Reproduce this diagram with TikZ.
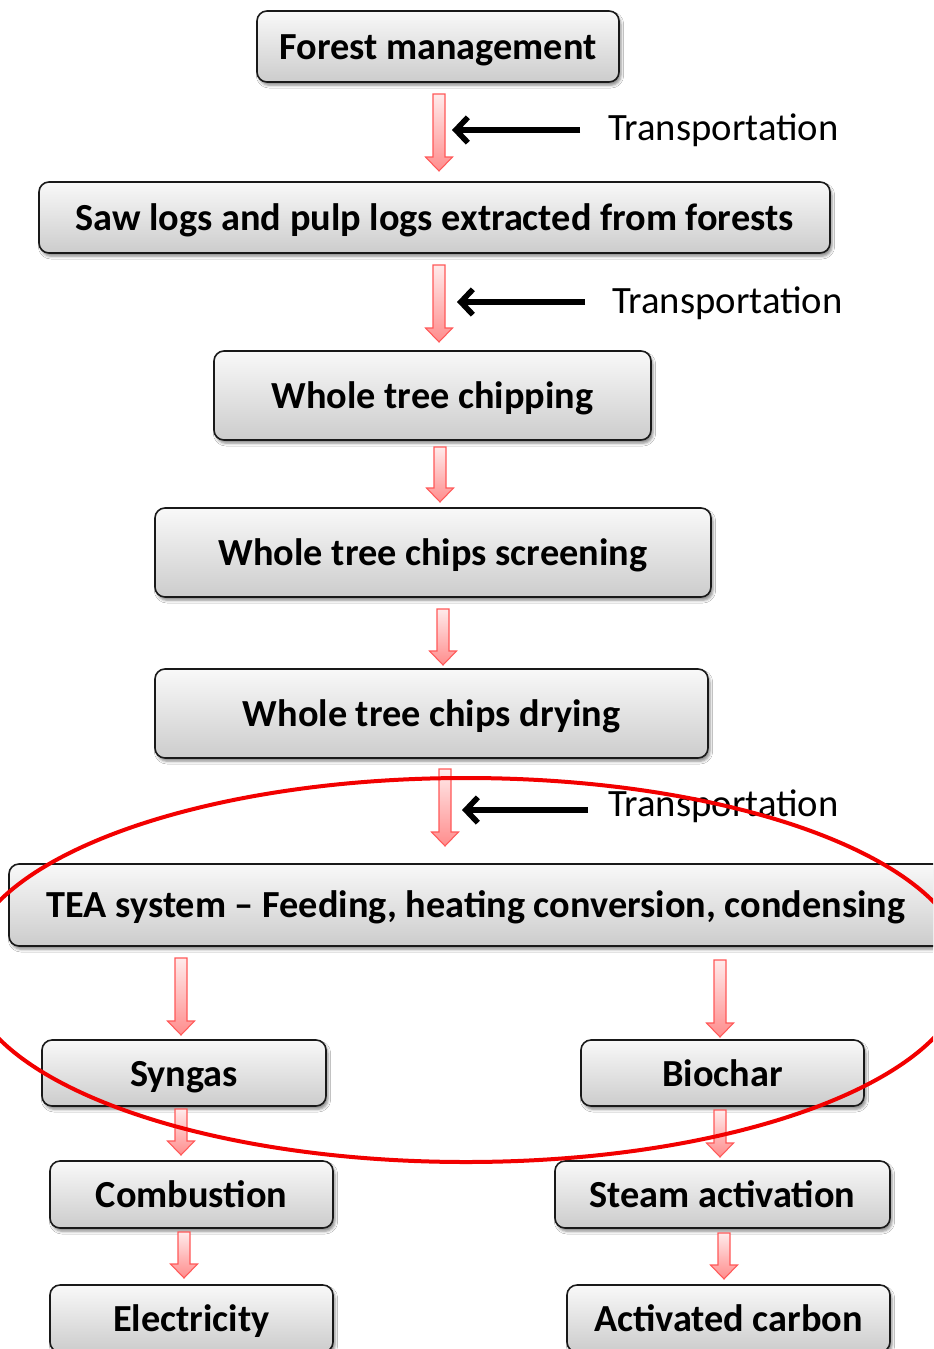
\documentclass[tikz,border=0pt]{standalone}
\usepackage{fontspec}
\setmainfont{Carlito}
\usetikzlibrary{shadows.blur,arrows.meta,calc}

% pixel-like grid: x to the right, y downwards
\tikzset{
  x=0.75pt, y=-0.75pt,
  stagebox/.style={draw=black!90, line width=1.2pt, rounded corners=7.5pt,
    top color=gray!5, bottom color=gray!40, inner sep=0pt,
    text height=19.5pt, text depth=0pt,
    font=\fontsize{28.7}{34}\selectfont\bfseries,
    blur shadow={shadow xshift=1.5pt, shadow yshift=-2.5pt,
      shadow blur radius=2pt, shadow opacity=45}},
  translabel/.style={anchor=base west, inner sep=0pt,
    font=\fontsize{29}{34}\selectfont},
  flowarr/.style={draw=red!65!white, line width=0.8pt, line join=miter,
    top color=red!8, bottom color=red!45},
  feedarr/.style={line width=4.2pt, -{Straight Barb[length=9pt,width=19pt]}},
  scope ring/.style={draw=red!95!black, line width=3pt}
}

% block arrow: centre x, top y, tip y
\newcommand\flowarrow[3]{%
  \draw[flowarr] (#1-6,#2) -- (#1+6,#2) -- (#1+6,#3-14) -- (#1+13.5,#3-14)
    -- (#1,#3) -- (#1-13.5,#3-14) -- (#1-6,#3-14) -- cycle;}

\begin{document}
\begin{tikzpicture}
\clip (0,0) rectangle (933,1349);
\fill[white] (0,0) rectangle (933,1349);

% process stages
\node[stagebox, minimum width=271.5pt, minimum height=53.25pt] (fm) at (438,46.5) {Forest management};
\node[stagebox, minimum width=593.25pt, minimum height=53.25pt] (saw) at (434.5,217.5) {Saw logs and pulp logs extracted from forests};
\node[stagebox, minimum width=327.75pt, minimum height=66.75pt] (chip) at (432.5,395.5) {Whole tree chipping};
\node[stagebox, minimum width=417pt, minimum height=66.75pt] (screen) at (433,552.5) {Whole tree chips screening};
\node[stagebox, minimum width=414.75pt, minimum height=66.75pt] (dry) at (431.5,713.5) {Whole tree chips drying};
\node[stagebox, minimum width=700.5pt, minimum height=61.5pt, text height=18pt] (tea) at (476,905) {TEA system -- Feeding, heating conversion, condensing};
\node[stagebox, minimum width=213pt, minimum height=49.5pt] (syn) at (184,1073) {Syngas};
\node[stagebox, minimum width=212.25pt, minimum height=49.5pt] (bio) at (722.5,1073) {Biochar};
\node[stagebox, minimum width=212.25pt, minimum height=50.25pt] (comb) at (191.5,1194.5) {Combustion};
\node[stagebox, minimum width=251.25pt, minimum height=50.25pt] (steam) at (722.5,1194.5) {Steam activation};
\node[stagebox, minimum width=212.25pt, minimum height=50.25pt] (elec) at (191.5,1318.5) {Electricity};
\node[stagebox, minimum width=242.25pt, minimum height=50.25pt] (actc) at (728.5,1318.5) {Activated carbon};

% flow between stages
\flowarrow{439}{94}{171}
\flowarrow{439}{265}{342}
\flowarrow{440}{447}{502}
\flowarrow{443}{609}{665}
\flowarrow{445}{769}{846}
\flowarrow{181}{958}{1035}
\flowarrow{720}{960}{1037}
\flowarrow{181}{1109}{1155}
\flowarrow{720}{1110}{1157}
\flowarrow{184}{1232}{1278}
\flowarrow{724}{1233}{1279}

% transportation inputs
\node[translabel] (t1) at (608,140) {Transportation};
\node[translabel] (t2) at (612,313) {Transportation};
\node[translabel] (t3) at (608,816) {Transportation};
\coordinate (tip1) at (452,130);
\coordinate (tip2) at (457,302);
\coordinate (tip3) at (462,810);
\draw[feedarr] (t1.west |- tip1) ++(-28,0) -- (tip1);
\draw[feedarr] (t2.west |- tip2) ++(-27,0) -- (tip2);
\draw[feedarr] (t3.west |- tip3) ++(-20,0) -- (tip3);

% highlighted conversion scope
\draw[scope ring] (466,970) ellipse [x radius=500, y radius=192];
\end{tikzpicture}
\end{document}
